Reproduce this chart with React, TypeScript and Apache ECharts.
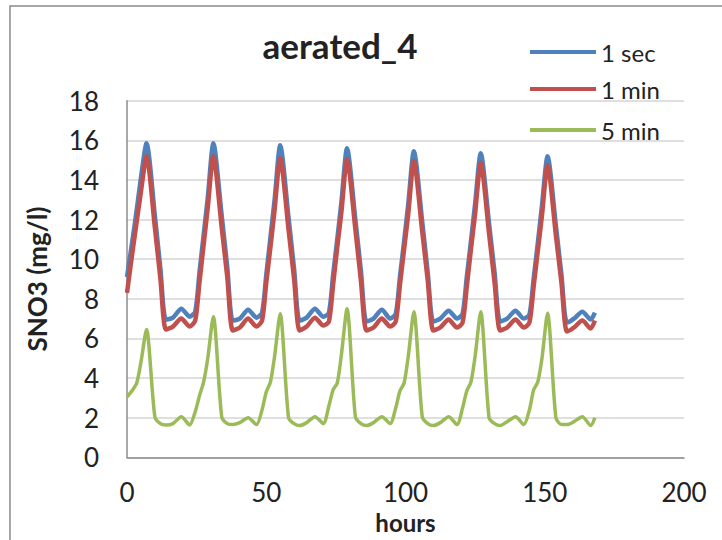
import { useEffect, useRef } from "react";
import * as echarts from "echarts";

const hours = [
  0, 2, 3.5, 5, 7, 10, 12, 14, 16.5, 19.5, 22.5,
  24.5, 26, 27.5, 29, 31, 34, 36, 38, 40.5, 43.5, 46.5,
  48.5, 50, 51.5, 53, 55, 58, 60, 62, 64.5, 67.5, 70.5,
  72.5, 74, 75.5, 77, 79, 82, 84, 86, 88.5, 91.5, 94.5,
  96.5, 98, 99.5, 101, 103, 106, 108, 110, 112.5, 115.5, 118.5,
  120.5, 122, 123.5, 125, 127, 130, 132, 134, 136.5, 139.5, 142.5,
  144.5, 146, 147.5, 149, 151, 154, 156, 158, 160.5, 163.5, 166.5,
  168,
];

const sec1 = [
  9.1, 11.0, 12.5, 14.1, 15.85, 12.2, 9.5, 6.95, 7.05, 7.5, 7.1,
  7.35, 9.3, 11.2, 13.1, 15.85, 12.2, 9.6, 6.9, 7.0, 7.45, 7.05,
  7.3, 9.2, 11.1, 13.0, 15.75, 12.1, 9.5, 6.9, 7.05, 7.5, 7.1,
  7.3, 9.2, 11.0, 12.9, 15.6, 12.0, 9.4, 6.85, 7.0, 7.45, 7.0,
  7.25, 9.1, 10.9, 12.8, 15.45, 11.9, 9.3, 6.85, 7.0, 7.4, 7.0,
  7.25, 9.1, 10.9, 12.8, 15.35, 11.8, 9.3, 6.85, 7.0, 7.4, 7.0,
  7.2, 9.0, 10.8, 12.7, 15.2, 11.7, 9.2, 6.8, 7.0, 7.35, 6.95,
  7.3,
];

const min1 = [
  8.3, 10.4, 11.9, 13.4, 15.2, 11.6, 9.0, 6.45, 6.6, 7.0, 6.6,
  6.9, 8.8, 10.7, 12.6, 15.2, 11.6, 9.1, 6.4, 6.55, 7.0, 6.6,
  6.9, 8.8, 10.6, 12.5, 15.1, 11.5, 9.0, 6.4, 6.6, 7.05, 6.65,
  6.85, 8.7, 10.6, 12.4, 15.05, 11.5, 8.9, 6.4, 6.55, 7.0, 6.6,
  6.85, 8.7, 10.5, 12.3, 14.95, 11.4, 8.9, 6.4, 6.55, 6.95, 6.55,
  6.8, 8.6, 10.5, 12.3, 14.85, 11.3, 8.8, 6.4, 6.55, 6.95, 6.55,
  6.8, 8.6, 10.4, 12.2, 14.75, 11.2, 8.8, 6.35, 6.55, 6.9, 6.5,
  6.9,
];

const min5 = [
  3.05, 3.4, 3.75, 4.8, 6.45, 2.05, 1.7, 1.63, 1.7, 2.05, 1.63,
  2.3, 3.1, 3.8, 5.0, 7.1, 2.05, 1.7, 1.65, 1.75, 2.0, 1.65,
  2.4, 3.3, 3.8, 5.1, 7.25, 2.0, 1.7, 1.6, 1.75, 2.05, 1.7,
  2.6, 3.4, 3.75, 5.2, 7.5, 2.05, 1.7, 1.6, 1.75, 2.05, 1.7,
  2.5, 3.35, 3.75, 5.1, 7.35, 2.05, 1.7, 1.6, 1.75, 2.05, 1.65,
  2.5, 3.35, 3.8, 5.1, 7.35, 2.0, 1.7, 1.6, 1.8, 2.05, 1.65,
  2.4, 3.4, 3.8, 5.0, 7.27, 2.0, 1.65, 1.65, 1.8, 2.05, 1.6,
  2.0,
];

const seriesNames = ["1 sec", "1 min", "5 min"];
const seriesColors = ["#4F81BD", "#C0504D", "#9BBB59"];
const seriesWidths = [4.5, 4.5, 3.5];
const legendTops = [40, 77, 118];
const titleText = "aerated_4";
const xName = "hours";
const yName = "SNO3 (mg/l)";

const FONT = "Lato, 'Liberation Sans', sans-serif";
const TEXT = "#222222";

export default function App() {
  const ref = useRef<HTMLDivElement>(null);

  useEffect(() => {
    if (!ref.current) return;
    const chart = echarts.init(ref.current, null, { renderer: "svg" });
    const values = [sec1, min1, min5];
    const pairs = (vals: number[]) => hours.map((h, i) => [h, vals[i]]);

    chart.setOption({
      animation: false,
      backgroundColor: "#ffffff",
      textStyle: { fontFamily: FONT },
      grid: { left: 127, right: 38, top: 100.7, bottom: 82.7, containLabel: false },
      xAxis: {
        type: "value",
        min: 0,
        max: 200,
        interval: 50,
        axisLine: { show: true, lineStyle: { color: "#8c8c8c", width: 1.5 } },
        axisTick: { show: false },
        splitLine: { show: false },
        axisLabel: { fontSize: 26, color: TEXT, margin: 22, fontFamily: FONT },
        name: xName,
        nameLocation: "middle",
        nameGap: 45,
        nameTextStyle: { fontSize: 24, fontWeight: "bold", color: TEXT, fontFamily: FONT },
      },
      yAxis: {
        type: "value",
        min: 0,
        max: 18,
        interval: 2,
        axisLine: { show: true, lineStyle: { color: "#8c8c8c", width: 1.5 } },
        axisTick: { show: false },
        splitLine: { show: true, lineStyle: { color: "#d4d4d4", width: 1.5 } },
        axisLabel: { fontSize: 26, color: TEXT, margin: 28, fontFamily: FONT },
        name: yName,
        nameLocation: "middle",
        nameGap: 77,
        nameRotate: 90,
        nameTextStyle: { fontSize: 26, fontWeight: "bold", color: TEXT, fontFamily: FONT },
      },
      legend: seriesNames.map((n, i) => ({
        data: [n],
        left: 530,
        top: legendTops[i],
        orient: "vertical",
        icon: "rect",
        itemWidth: 66,
        itemHeight: 4,
        padding: 0,
        selectedMode: false,
        textStyle: { fontSize: 24, lineHeight: 24, color: TEXT, fontFamily: FONT },
      })),
      graphic: [
        {
          type: "rect",
          shape: { x: 10, y: 6, width: 900, height: 900 },
          style: { fill: "none", stroke: "#8a8a8a", lineWidth: 1.5 },
          silent: true,
        },
        {
          type: "text",
          x: 340,
          y: 45,
          style: {
            text: titleText,
            fontSize: 35,
            fontWeight: "bold",
            fontFamily: FONT,
            fill: TEXT,
            align: "center",
            verticalAlign: "middle",
          },
        },
      ],
      series: seriesNames.map((n, i) => ({
        name: n,
        type: "line",
        data: pairs(values[i]),
        symbol: "none",
        showSymbol: false,
        smooth: 0.25,
        color: seriesColors[i],
        lineStyle: { color: seriesColors[i], width: seriesWidths[i], join: "round" },
        z: 2 + i,
      })),
    });

    return () => chart.dispose();
  }, []);

  return (
    <div
      ref={ref}
      style={{ position: "fixed", left: 0, top: 0, width: 722, height: 540, background: "#fff" }}
    />
  );
}
